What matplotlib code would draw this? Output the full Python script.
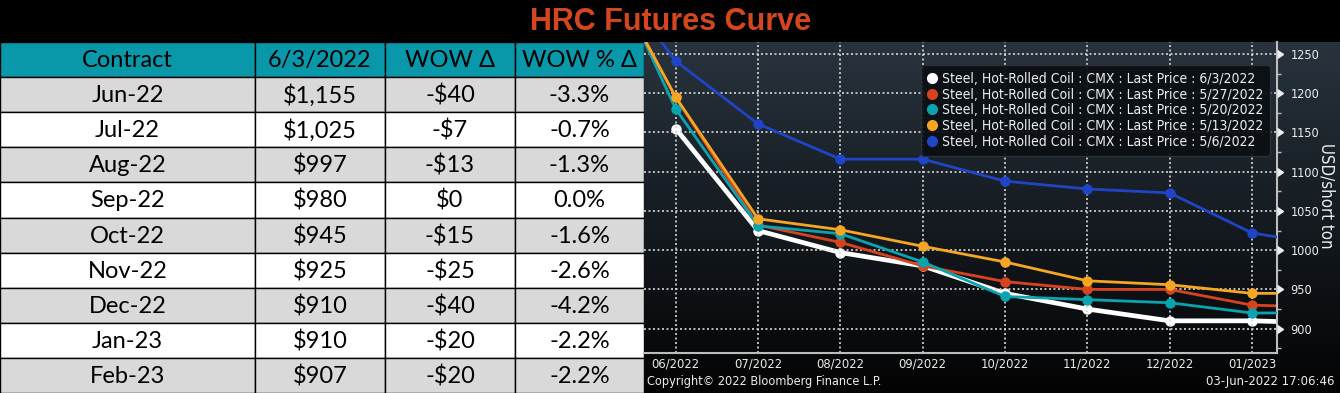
import numpy as np
import matplotlib
matplotlib.use('Agg')
import matplotlib.pyplot as plt
from matplotlib import font_manager as fm
from matplotlib import markers
from matplotlib import transforms
from matplotlib.lines import Line2D
from matplotlib.patches import Rectangle
from matplotlib.colors import LinearSegmentedColormap

# Table data
headers = ['Contract', '6/3/2022', 'WOW Δ', 'WOW % Δ']
contracts = ['Jun-22', 'Jul-22', 'Aug-22', 'Sep-22', 'Oct-22', 'Nov-22', 'Dec-22', 'Jan-23', 'Feb-23']
settle = [1155, 1025, 997, 980, 945, 925, 910, 910, 907]
wow_chg = [-40, -7, -13, 0, -15, -25, -40, -20, -20]
wow_pct = [-3.3, -0.7, -1.3, 0.0, -1.6, -2.6, -4.2, -2.2, -2.2]

# Curve data: index 0 = 06/2022 contract, -1 = 05/2022
curve_x = [-1, 0, 1, 2, 3, 4, 5, 6, 7, 8]
x_labels = ['06/2022', '07/2022', '08/2022', '09/2022', '10/2022', '11/2022', '12/2022', '01/2023']
curve_0603 = [np.nan, 1155, 1025, 997, 980, 945, 925, 910, 910, 907]
curve_0527 = [1392, 1195, 1032, 1010, 980, 960, 950, 950, 930, 927]
curve_0520 = [1407, 1180, 1031, 1021, 985, 941, 937, 933, 920, 920]
curve_0513 = [1389, 1195, 1040, 1026, 1005, 985, 961, 956, 945, 945]
curve_0506 = [1382, 1241, 1161, 1116, 1116, 1088, 1078, 1073, 1022, 1005]
series_dates = ['6/3/2022', '5/27/2022', '5/20/2022', '5/13/2022', '5/6/2022']
y_major = list(range(900, 1251, 50))

W, H = 1340, 393

names = {f.name for f in fm.fontManager.ttflist}
if 'Liberation Sans Narrow' in names:
    bbg_font, bbg_stretch = 'Liberation Sans Narrow', 'normal'
else:
    bbg_font, bbg_stretch = 'DejaVu Sans', 'condensed'

fig = plt.figure(figsize=(W / 100, H / 100), dpi=100, facecolor='black')
renderer = fig.canvas.get_renderer()


def fit_size(s, target_px):
    # font size that makes s about target_px wide
    t = fig.text(0, 0, s, fontsize=10, family=bbg_font, fontstretch=bbg_stretch)
    w = t.get_window_extent(renderer).width
    t.remove()
    return 10.0 * target_px / w


# ---- title ----
fig.text(671 / W, 1 - 22 / H, 'HRC Futures Curve', ha='center', va='center',
         fontsize=22, fontweight='bold', color='#D5461F', family='Liberation Sans')

# ---- table ----
tab_h = 351
ax_t = fig.add_axes([0, 0, 644 / W, tab_h / H])
ax_t.set_xlim(0, 644)
ax_t.set_ylim(tab_h, 0)
ax_t.axis('off')
col_edges = [0, 255, 385, 515, 644]
row_h = tab_h / 10.0

rows = []
for c, s, d, p in zip(contracts, settle, wow_chg, wow_pct):
    d_txt = ('-$%d' % abs(d)) if d < 0 else ('$%d' % d)
    rows.append([c, '${:,}'.format(s), d_txt, '%.1f%%' % p])

all_rows = [headers] + rows
for r, vals in enumerate(all_rows):
    y0 = r * row_h
    if r == 0:
        fc = '#0898AA'
    elif r % 2 == 1:
        fc = '#D9D9D9'
    else:
        fc = 'white'
    for ci in range(4):
        x0, x1 = col_edges[ci], col_edges[ci + 1]
        ax_t.add_patch(Rectangle((x0, y0), x1 - x0, row_h, facecolor=fc,
                                 edgecolor='black', linewidth=1.0))
        ax_t.text((x0 + x1) / 2, y0 + row_h / 2 + 1, vals[ci], ha='center', va='center',
                  fontsize=17, color='black', family=['Lato', 'DejaVu Sans'])

# ---- chart background gradient ----
ax_bg = fig.add_axes([644 / W, 0, (W - 644) / W, tab_h / H])
grad_cmap = LinearSegmentedColormap.from_list('bbg', ['#28333D', '#151B21', '#030303'])
ax_bg.imshow(np.linspace(0, 1, 256).reshape(-1, 1), cmap=grad_cmap, aspect='auto',
             extent=[0, 1, 0, 1])
ax_bg.axis('off')

# ---- chart ----
ax = fig.add_axes([644 / W, 40 / H, (1276.7 - 644) / W, (353 - 42) / H])
ax.set_facecolor('none')

styles = [
    (curve_0603, '#FFFFFF', 3.4, 1),
    (curve_0527, '#D8431F', 2.0, 2),
    (curve_0520, '#0AA3B0', 2.0, 3),
    (curve_0513, '#F5A623', 2.0, 4),
    (curve_0506, '#1F45C6', 2.0, 5),
]
for vals, col, lw, z in styles:
    ax.plot(curve_x, vals, color=col, lw=lw, marker='o', ms=6.5, zorder=z)

ax.set_xlim(-0.385, 7.30)
ax.set_ylim(869, 1265.3)
ax.set_xticks(range(len(x_labels)))
ax.set_xticklabels(x_labels)
ax.set_yticks(y_major)
ax.set_yticks(range(875, 1265, 25), minor=True)
ax.yaxis.tick_right()

ax.grid(True, which='major', color='#D8D8D8', linestyle=(0, (1.2, 1.5)), linewidth=1.2, zorder=0)
for side in ['left', 'top']:
    ax.spines[side].set_visible(False)
for side in ['right', 'bottom']:
    ax.spines[side].set_color('#BDBDBD')
    ax.spines[side].set_linewidth(1.5)

xt_size = fit_size('06/2022', 48)
yt_size = fit_size('1250', 29)
ax.tick_params(axis='x', length=0, pad=3, labelsize=xt_size, labelcolor='#EDEDED')
ax.tick_params(axis='y', which='major', length=0, pad=10, labelsize=yt_size, labelcolor='#EDEDED')
ax.tick_params(axis='y', which='minor', direction='out', length=3, width=1, color='#BDBDBD')
for lab in ax.get_xticklabels() + ax.get_yticklabels():
    lab.set_family(bbg_font)
    lab.set_fontstretch(bbg_stretch)

# triangle tick marks on the right axis
tri_tr = transforms.blended_transform_factory(ax.transAxes, ax.transData)
ax.plot([1] * len(y_major), y_major, transform=tri_tr, ls='none', marker=markers.CARETRIGHTBASE,
        ms=6, color='#EDEDED', clip_on=False, zorder=6)

fig.text(1327 / W, 1 - 196 / H, 'USD/short ton', rotation=270, ha='center', va='center',
         fontsize=fit_size('USD/short ton', 105), color='#EDEDED', family=bbg_font,
         fontstretch=bbg_stretch)

# legend
labels = ['Steel, Hot-Rolled Coil : CMX : Last Price : ' + d for d in series_dates]
leg_size = fit_size(labels[0], 313)
handles = [Line2D([], [], marker='o', ls='none', color=c, markersize=7) for _, c, _, _ in styles]
leg = ax.legend(handles, labels, loc='upper left', bbox_to_anchor=(921 / W, 1 - 65 / H),
                bbox_transform=fig.transFigure, frameon=True, facecolor='#0B0F13',
                edgecolor='#2C3137', framealpha=0.92, labelspacing=0.12, handlelength=0.6,
                handletextpad=0.4, borderpad=0.5, borderaxespad=0,
                prop={'family': bbg_font, 'size': leg_size, 'stretch': bbg_stretch},
                labelcolor='#EDEDED')
leg.set_zorder(10)

fig.text(647 / W, 1 - 381 / H, 'Copyright© 2022 Bloomberg Finance L.P.', ha='left', va='center',
         fontsize=fit_size('Copyright© 2022 Bloomberg Finance L.P.', 234), color='#EDEDED',
         family=bbg_font, fontstretch=bbg_stretch)
fig.text(1334 / W, 1 - 381 / H, '03-Jun-2022 17:06:46', ha='right', va='center',
         fontsize=fit_size('03-Jun-2022 17:06:46', 128), color='#EDEDED',
         family=bbg_font, fontstretch=bbg_stretch)

fig.savefig('out.png', dpi=100, facecolor='black')
